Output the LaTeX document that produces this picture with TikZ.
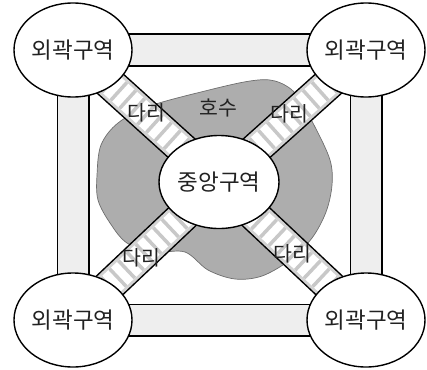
\documentclass[tikz,border=0pt]{standalone}
\usepackage{fontspec}
\newfontfamily\kr{Noto Sans CJK KR}
\usetikzlibrary{shapes.geometric}
\definecolor{lakefill}{HTML}{ADADAD}
\definecolor{lakeedge}{HTML}{6E6E6E}
\definecolor{roadfill}{HTML}{EEEEEE}
\definecolor{railfill}{HTML}{D2D2D2}
\definecolor{rungfill}{HTML}{C8C8C8}
\definecolor{txt}{HTML}{222222}
\pgfdeclarelayer{lakelayer}
\pgfdeclarelayer{roadlayer}
\pgfsetlayers{lakelayer,roadlayer,main}
\tikzset{
  zone/.style={ellipse, draw=black, line width=1.4pt, fill=white, inner sep=0pt,
    minimum width=118pt, minimum height=94pt, text=txt,
    font=\kr\fontsize{22.5}{24}\selectfont},
  label/.style={inner sep=0pt, text=txt, font=\kr\fontsize{20.5}{22}\selectfont},
  roadedge/.style={line width=33pt, black},
  roadbody/.style={line width=30pt, roadfill},
  bridgeedge/.style={line width=33pt, black},
  bridgerail/.style={line width=30pt, railfill},
  bridgedeck/.style={line width=24pt, white},
  bridgerung/.style={line width=24pt, rungfill, dash pattern=on 3.5pt off 8.5pt},
}
\begin{document}
\begin{tikzpicture}[x=1pt,y=-1pt]
\useasboundingbox (0,0) rectangle (427,369);

\node[zone] (tl) at (73,50) {외곽구역};
\node[zone] (tr) at (366,50) {외곽구역};
\node[zone] (bl) at (73,320) {외곽구역};
\node[zone] (br) at (366,320) {외곽구역};
\node[zone, minimum width=120pt, minimum height=93pt] (c) at (219,182) {중앙구역};

\begin{pgfonlayer}{lakelayer}
\filldraw[fill=lakefill, draw=lakeedge, line width=0.7pt]
  plot[smooth cycle, tension=0.55] coordinates {
   (118,123) (150,106) (205,91) (250,81) (275,81) (296,94) (315,127)
   (330,160) (332,185) (326,212) (312,238) (290,260) (262,276) (235,279)
   (208,270) (185,252) (155,252) (127,243) (110,223) (98,200) (97,175) (101,145)};
\end{pgfonlayer}

\begin{pgfonlayer}{roadlayer}
\foreach \a/\b in {tl/tr, tl/bl, tr/br, bl/br} {
  \draw[roadedge] (\a.center) -- (\b.center);
  \draw[roadbody] (\a.center) -- (\b.center);
}
\foreach \a in {tl,tr,bl,br} {
  \draw[bridgeedge] (\a.center) -- (c.center);
  \draw[bridgerail] (\a.center) -- (c.center);
  \draw[bridgedeck] (\a.center) -- (c.center);
  \draw[bridgerung] (\a.center) -- (c.center);
}
\end{pgfonlayer}

\node[label] (lake) at (218,108) {호수};
\node[label] (b1) at (146,113) {다리};
\node[label] (b2) at (289,114) {다리};
\node[label] (b3) at (141,258) {다리};
\node[label] (b4) at (292,254) {다리};
\end{tikzpicture}
\end{document}
